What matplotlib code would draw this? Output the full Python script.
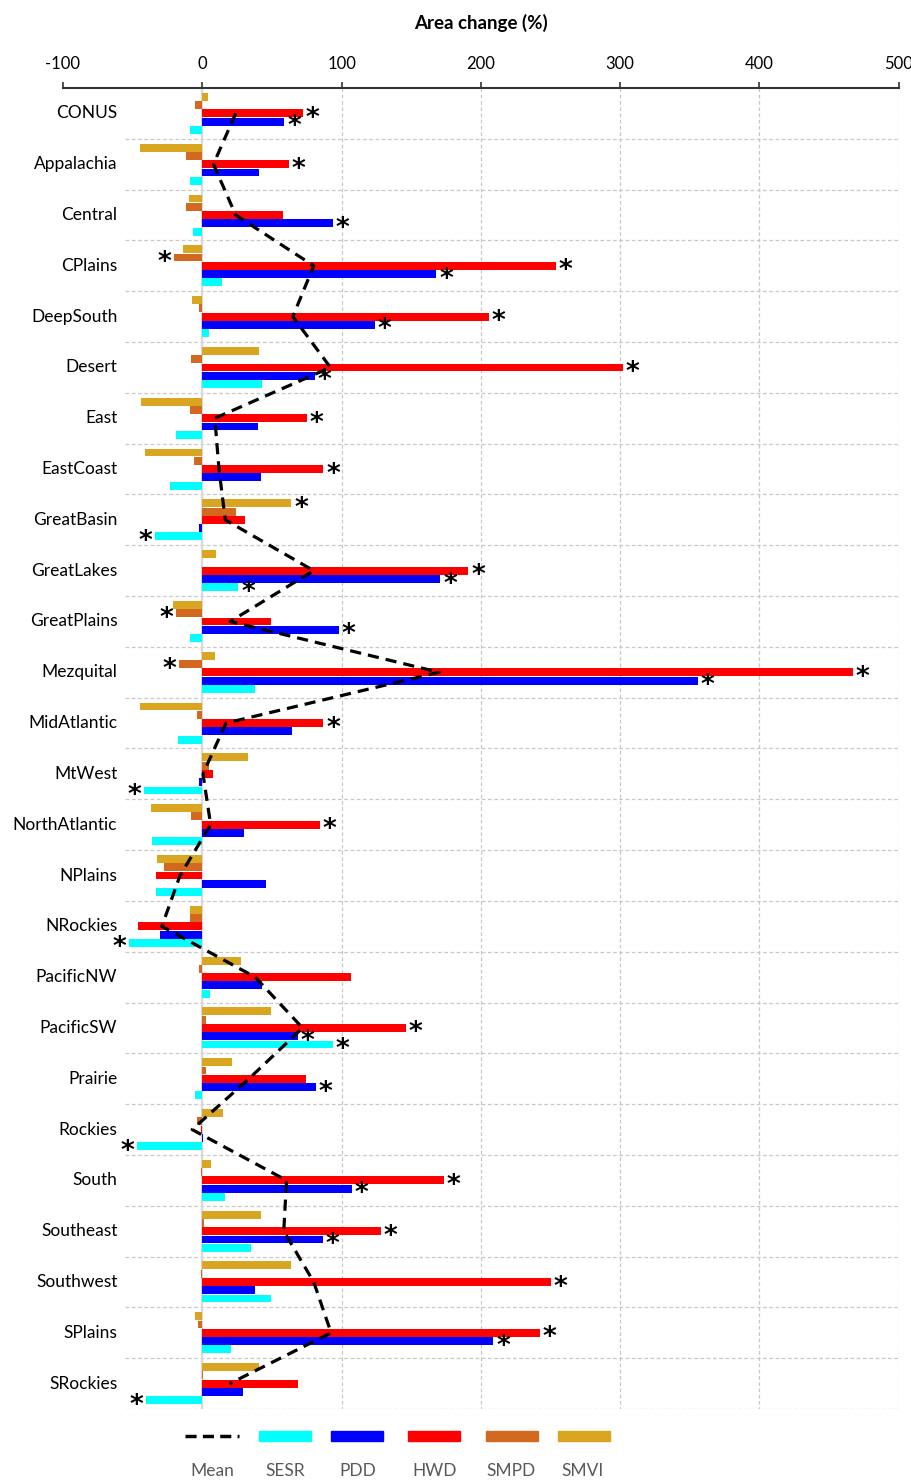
import numpy as np
import matplotlib
matplotlib.use("Agg")
import matplotlib.pyplot as plt
from matplotlib.lines import Line2D
from matplotlib.patches import Rectangle

# ---------------- data ----------------
regions = ["CONUS", "Appalachia", "Central", "CPlains", "DeepSouth", "Desert", "East",
           "EastCoast", "GreatBasin", "GreatLakes", "GreatPlains", "Mezquital",
           "MidAtlantic", "MtWest", "NorthAtlantic", "NPlains", "NRockies", "PacificNW",
           "PacificSW", "Prairie", "Rockies", "South", "Southeast", "Southwest",
           "SPlains", "SRockies"]

SMVI = [4, -45, -9.5, -14, -7.5, 41, -44, -41, 64, 10, -21, 9, -44.5, 33, -36.5, -32.5,
        -8.5, 28, 49.5, 21.5, 15, 6, 42, 63.5, -5, 40.5]
SMPD = [-5, -12, -12, -20.5, -2.5, -8, -9, -6, 24, 0, -19, -17, -4, 5, -8, -27.5,
        -8.5, -2.5, 2.5, 2.5, -4, -1, 1, -0.7, -3, 0.3]
HWD = [72, 62, 58, 254, 206, 302, 75, 87, 31, 191, 49.5, 467, 87, 8, 84.5, -33,
       -46, 107, 146, 74.5, -1, 173.5, 128, 250.5, 242.5, 68.5]
PDD = [59, 41, 94, 168, 124, 81, 40, 42, -2.5, 171, 98, 356, 64.5, -2, 30, 45.5,
       -30, 43, 68.5, 81.5, 0.5, 107.5, 86.5, 37.5, 209, 29.5]
SESR = [-9, -9, -7, 14, 4.5, 43, -19, -23, -34, 26, -9, 37.5, -17.5, -41.5, -36, -33,
        -52.5, 5.5, 93.5, -5, -47, 16, 35, 49, 20.5, -40.5]
MEAN = [24, 8, 24, 80, 65, 92, 9, 12, 16.5, 80, 20, 170, 17, 0.5, 6, -16,
        -29, 38, 72, 33.5, -7.3, 60.5, 58.5, 80, 92.5, 19.7]

# significance flags (asterisks)
sig_SMVI = [0, 0, 0, 0, 0, 0, 0, 0, 1, 0, 0, 0, 0, 0, 0, 0, 0, 0, 0, 0, 0, 0, 0, 0, 0, 0]
sig_SMPD = [0, 0, 0, 1, 0, 0, 0, 0, 0, 0, 1, 1, 0, 0, 0, 0, 0, 0, 0, 0, 0, 0, 0, 0, 0, 0]
sig_HWD = [1, 1, 0, 1, 1, 1, 1, 1, 0, 1, 0, 1, 1, 0, 1, 0, 0, 0, 1, 0, 0, 1, 1, 1, 1, 0]
sig_PDD = [1, 0, 1, 1, 1, 1, 0, 0, 0, 1, 1, 1, 0, 0, 0, 0, 0, 0, 1, 1, 0, 1, 1, 0, 1, 0]
sig_SESR = [0, 0, 0, 0, 0, 0, 0, 0, 1, 1, 0, 0, 0, 1, 0, 0, 1, 0, 1, 0, 1, 0, 0, 0, 0, 1]

xticks = [-100, 0, 100, 200, 300, 400, 500]
legend_labels = ["Mean", "SESR", "PDD", "HWD", "SMPD", "SMVI"]

# ---------------- style ----------------
plt.rcParams["font.family"] = ["Lato", "DejaVu Sans"]
plt.rcParams["axes.unicode_minus"] = False

C_SMVI, C_SMPD, C_HWD, C_PDD, C_SESR = "#DAA520", "#D2691E", "#FF0000", "#0000FF", "#00FFFF"
GRID = "#C8C8C8"

W, H = 912, 1482
fig = plt.figure(figsize=(W / 100, H / 100), dpi=100)
ax_left, ax_right, ax_top, ax_bot = 63, 898.7, 88, 1409
ax = fig.add_axes([ax_left / W, 1 - ax_bot / H, (ax_right - ax_left) / W, (ax_bot - ax_top) / H])

n = len(regions)
y = np.arange(n)
series = [("SMVI", SMVI, sig_SMVI, C_SMVI),
          ("SMPD", SMPD, sig_SMPD, C_SMPD),
          ("HWD", HWD, sig_HWD, C_HWD),
          ("PDD", PDD, sig_PDD, C_PDD),
          ("SESR", SESR, sig_SESR, C_SESR)]
step = 0.163
bh = 0.155

ax.set_xlim(-100, 500)
ax.set_ylim(n - 0.5, -0.5)

# grid
ax.vlines([100, 200, 300, 400, 500], -0.5, n - 0.5, colors=GRID, linestyles=(0, (3, 2)),
          lw=0.9, zorder=1)
ax.hlines(np.arange(n) + 0.5, -55.7, 500, colors=GRID, linestyles=(0, (3, 2)), lw=0.9, zorder=1)
ax.axvline(0, color="#D9D9D9", lw=1.6, zorder=1)

for k, (name, vals, sig, col) in enumerate(series):
    off = (k - 2) * step
    ax.barh(y + off, vals, height=bh, color=col, edgecolor="none", zorder=3)
    for i, (v, s) in enumerate(zip(vals, sig)):
        if s:
            pos = v >= 0
            ax.annotate("*", xy=(v, y[i] + off), xytext=(2 if pos else -2, -4),
                        textcoords="offset points", ha="left" if pos else "right",
                        va="center", fontsize=19, fontweight="bold", color="black",
                        family=["DejaVu Sans"], zorder=6)

ax.plot(MEAN, y, color="black", lw=2.3, linestyle=(0, (3.5, 2.2)), zorder=5)

# category labels
for i, r in enumerate(regions):
    ax.text(-61, i, r, ha="right", va="center", fontsize=12.5, color="black")

# axes / ticks
for s in ["left", "right", "bottom"]:
    ax.spines[s].set_visible(False)
ax.spines["top"].set_color("#333333")
ax.spines["top"].set_linewidth(1.5)
ax.set_yticks([])
ax.xaxis.tick_top()
ax.set_xticks(xticks)
ax.set_xticklabels([str(t) for t in xticks])
ax.tick_params(axis="x", direction="out", length=4.2, width=1.2, color="#333333",
               pad=7, labelsize=12)
ax.xaxis.set_label_position("top")
ax.set_xlabel("Area change (%)", fontsize=13.5, fontweight="bold", labelpad=20)

# legend (manual, labels under keys)
ly = 1 - 1436 / H
fig.add_artist(Line2D([185 / W, 239 / W], [ly, ly], color="black", lw=2.5,
                      linestyle=(0, (3.2, 1.8)), transform=fig.transFigure))
keys = [(259, C_SESR), (331, C_PDD), (408, C_HWD), (486, C_SMPD), (558, C_SMVI)]
for x0, c in keys:
    fig.add_artist(Rectangle((x0 / W, 1 - 1441 / H), 52 / W, 10 / H, color=c,
                             transform=fig.transFigure))
label_x = [212, 285, 358, 435, 511, 583]
for lx, lab in zip(label_x, legend_labels):
    fig.text(lx / W, 1 - 1471 / H, lab, ha="center", va="center", color="#595959", fontsize=12.5)

fig.savefig("out.png", dpi=100)
